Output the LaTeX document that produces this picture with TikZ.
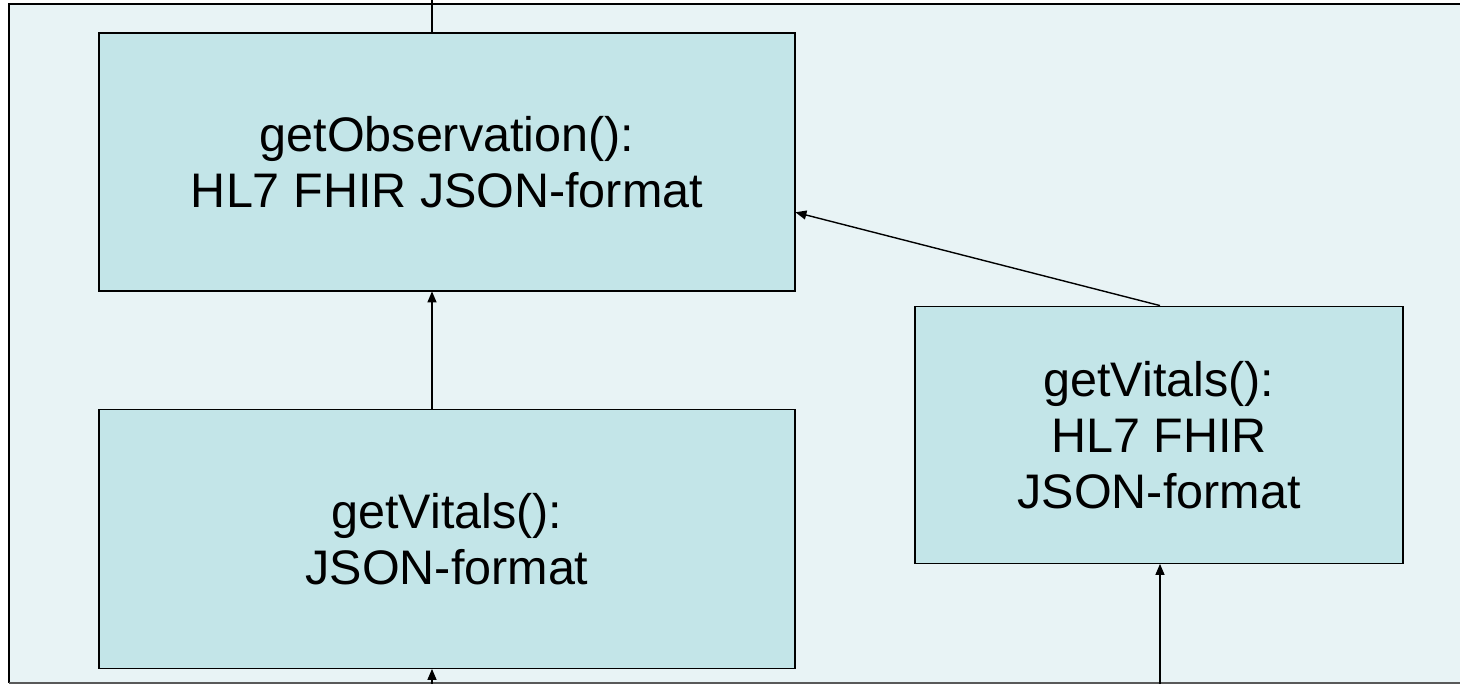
\documentclass[tikz,border=0pt]{standalone}
\usepackage{fontspec}
\setmainfont{Liberation Sans}
\usetikzlibrary{arrows.meta,calc}
\definecolor{panelbg}{HTML}{E8F3F5}
\definecolor{boxfill}{HTML}{C3E5E8}
\tikzset{
  procbox/.style={draw=black, line width=1.8pt, fill=boxfill, align=center,
    inner sep=0pt, font=\fontsize{48.5}{56}\selectfont},
  flow/.style={draw=black, line width=1.4pt,
    -{Triangle[length=11pt,width=9pt]}, shorten >=-0.5pt},
  plain/.style={draw=black, line width=1.4pt}
}
\begin{document}
\begin{tikzpicture}[x=1pt,y=-1pt]
\useasboundingbox (0,0) rectangle (1460,684);
% panel background with its frame (open on the right)
\fill[panelbg] (9,4) rectangle (1460,684);
\draw[line width=2pt] (1460,4) -- (9,4) -- (9,683);
\draw[line width=2pt, black!65] (9,683) -- (1460,683);
% processing steps
\node[procbox, minimum width=696pt, minimum height=258pt] (obs) at (447,162)
  {getObservation():\\HL7 FHIR JSON-format};
\node[procbox, minimum width=696pt, minimum height=259pt] (vit) at (447,539)
  {getVitals():\\JSON-format};
\node[procbox, minimum width=488pt, minimum height=257pt] (fhir) at (1159,435)
  {getVitals():\\HL7 FHIR\\JSON-format};
% connector end points at the picture's edges
\coordinate (topout) at (432,0);
\coordinate (leftin) at (432,684);
\coordinate (rightin) at (1160,684);
\coordinate (obsside) at ($(obs.south east)!0.306!(obs.north east)$);
% connectors
\draw[plain] (obs.north -| topout) -- (topout);
\draw[flow] (vit.north -| topout) -- (obs.south -| topout);
\draw[flow] (fhir.north -| rightin) -- (obsside);
\draw[flow] (leftin) -- (vit.south -| leftin);
\draw[flow] (rightin) -- (fhir.south -| rightin);
\end{tikzpicture}
\end{document}
